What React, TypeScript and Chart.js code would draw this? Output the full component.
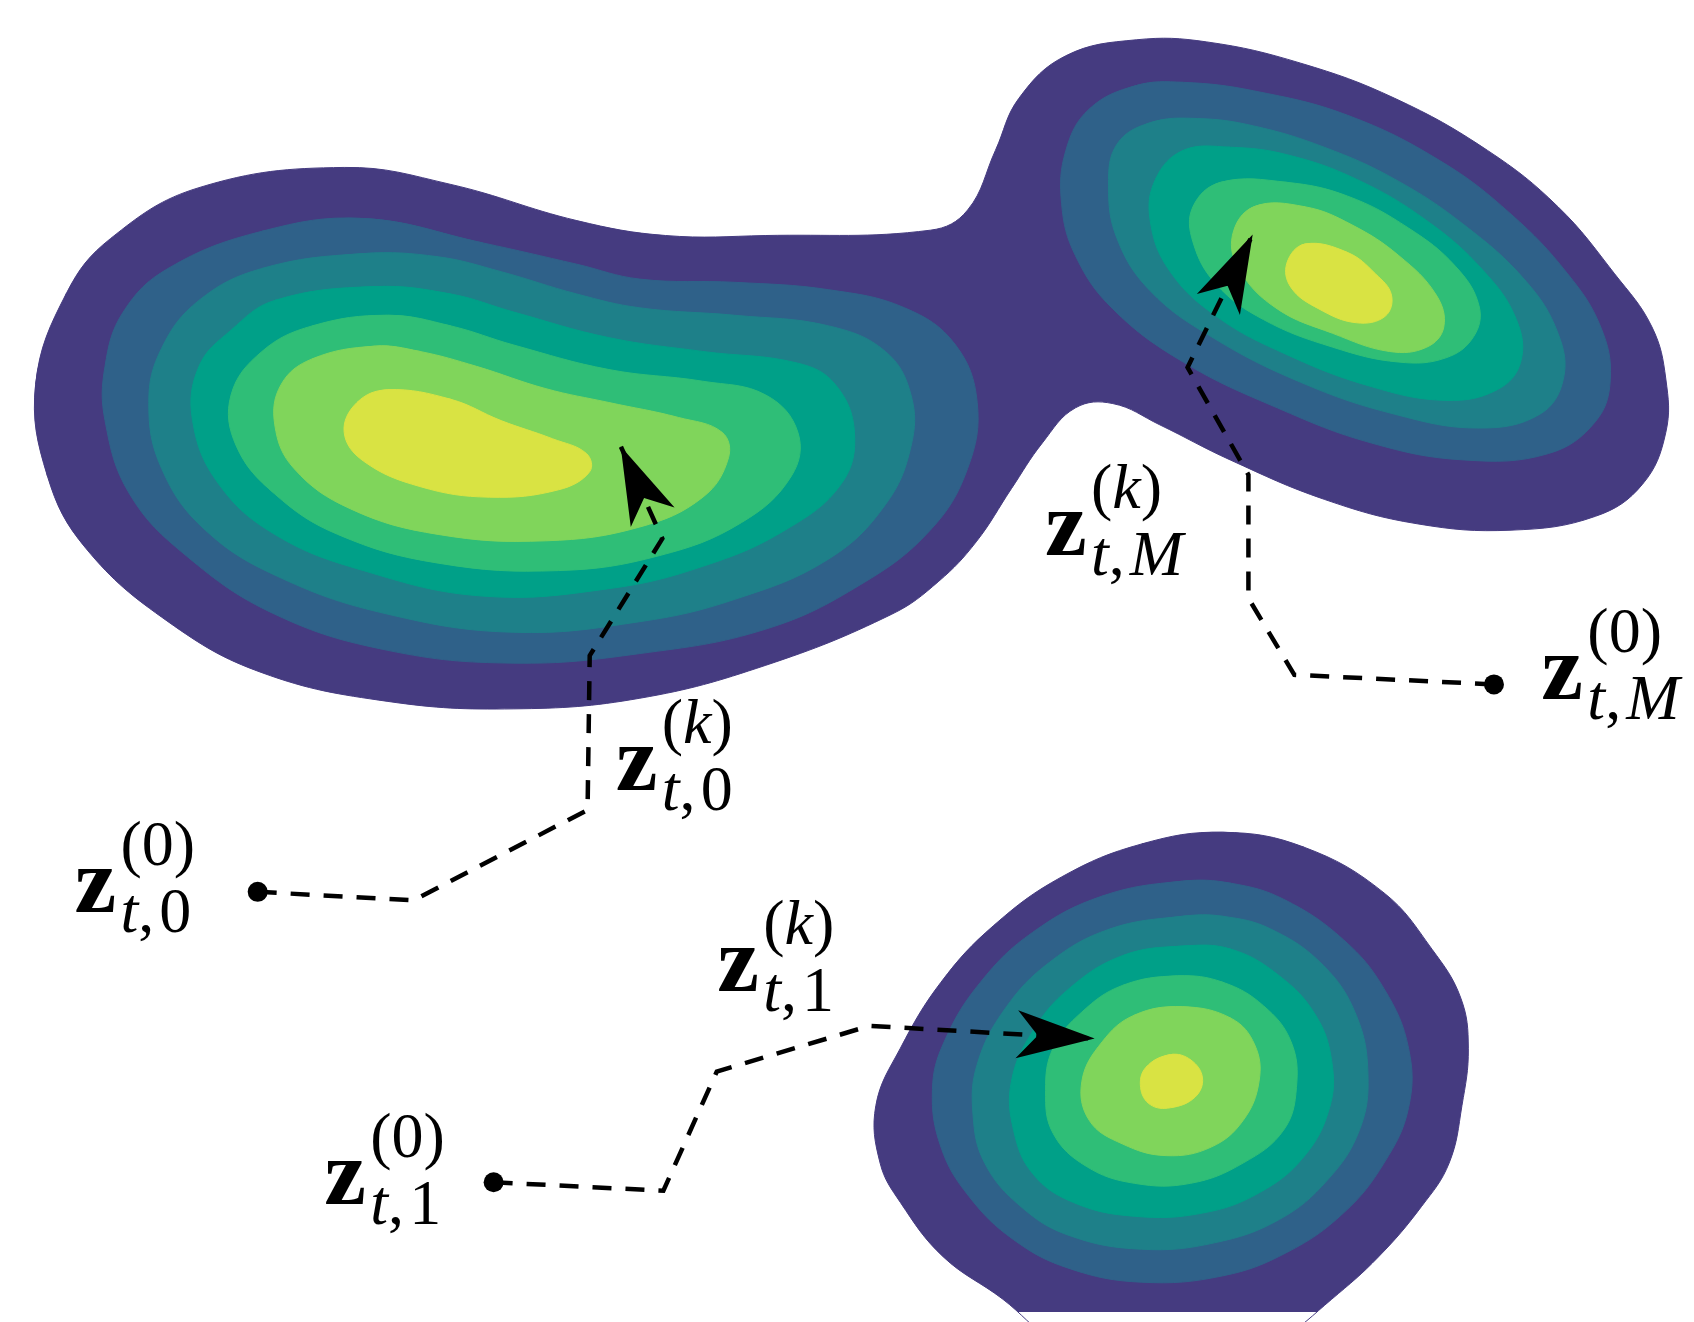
import React, { useEffect, useRef } from "react";
import { Chart, registerables } from "chart.js";

Chart.register(...registerables);

const W = 1694;
const H = 1322;
// data space = the reference picture's own coordinate frame
const X_MAX = 1568;
const Y_MAX = 1224;

const LEVEL_COLORS = ["#453b80", "#2f6189", "#1e8089", "#00a088", "#2fbe77", "#80d55b", "#d9e343"];

// ---- contour lines (closed), level 0 = outermost ----
const topOuter = [[24,352],[53,266],[94,215],[177,167],[313,148],[413,164],[531,198],[614,212],[708,212],[862,207],[897,188],[923,132],[945,83],[989,43],[1055,28],[1121,30],[1209,50],[1297,83],[1384,132],[1450,185],[1503,248],[1538,298],[1551,347],[1551,397],[1529,446],[1485,476],[1406,489],[1318,483],[1231,460],[1143,423],[1077,390],[1033,370],[998,374],[967,407],[938,450],[905,500],[870,537],[826,568],[708,616],[590,647],[472,657],[354,650],[236,623],[148,575],[71,506],[35,438]];

const leftL1 = [[331,196],[443,219],[531,239],[590,253],[679,256],[767,263],[838,280],[885,314],[906,369],[897,431],[862,489],[797,540],[708,582],[590,605],[472,614],[354,602],[248,568],[165,513],[112,455],[89,386],[89,335],[106,284],[148,243],[236,208]];
const leftL2 = [[331,229],[401,232],[460,246],[531,267],[590,280],[679,287],[767,297],[820,321],[844,362],[844,410],[820,465],[767,516],[679,554],[590,575],[472,585],[354,568],[254,534],[183,489],[142,431],[130,369],[142,318],[177,273],[236,243]];
const leftL3 = [[342,260],[413,267],[472,284],[561,308],[649,321],[738,332],[773,352],[791,397],[779,445],[726,489],[649,523],[561,544],[443,551],[331,527],[248,493],[195,445],[171,386],[177,335],[207,301],[248,273]];
const leftL4 = [[354,287],[413,297],[472,315],[561,338],[649,349],[708,362],[738,397],[732,438],[685,482],[608,513],[514,527],[401,520],[307,493],[248,455],[212,410],[207,362],[236,321],[283,297]];
const leftL5 = [[342,316],[384,321],[437,335],[502,356],[561,369],[626,383],[667,397],[673,421],[649,458],[590,486],[502,499],[401,493],[319,469],[266,431],[248,390],[254,352],[283,328]];
const leftL6 = [[354,357],[413,366],[460,386],[508,403],[540,417],[543,434],[514,451],[449,458],[384,448],[331,424],[313,397],[325,369]];

const rightL1 = [[1055,71],[1099,68],[1165,76],[1253,99],[1340,142],[1406,192],[1459,248],[1490,298],[1499,347],[1485,387],[1441,417],[1362,423],[1275,407],[1187,374],[1099,331],[1033,281],[998,231],[985,182],[989,132],[1011,93]];
const rightL2 = [[1068,106],[1112,102],[1165,109],[1231,129],[1297,159],[1362,202],[1420,255],[1450,304],[1455,347],[1433,380],[1376,393],[1297,380],[1209,350],[1125,307],[1068,264],[1037,215],[1029,165],[1037,126]];
const rightL3 = [[1099,132],[1143,129],[1196,136],[1261,159],[1327,198],[1380,245],[1411,291],[1415,331],[1393,357],[1345,367],[1275,354],[1196,324],[1130,288],[1086,245],[1068,198],[1073,159]];
const rightL4 = [[1134,162],[1196,162],[1253,175],[1310,205],[1354,241],[1376,278],[1371,307],[1345,327],[1301,331],[1239,317],[1174,291],[1130,258],[1108,218],[1108,185]];
const rightL5 = [[1165,185],[1213,185],[1257,202],[1301,231],[1336,268],[1343,298],[1327,317],[1292,321],[1239,304],[1187,281],[1152,245],[1145,212]];
const rightL6 = [[1213,220],[1253,228],[1279,248],[1294,268],[1288,288],[1261,294],[1226,281],[1200,261],[1196,238]];

const botL0 = [[1136,773],[1212,787],[1287,830],[1332,883],[1359,929],[1366,976],[1360,1030],[1348,1084],[1322,1125],[1282,1172],[1238,1212],[1190,1250],[1120,1285],[1040,1285],[975,1250],[930,1212],[874,1172],[834,1121],[815,1084],[811,1030],[834,976],[872,914],[921,861],[985,815],[1060,784]];
const botL1 = [[1098,819],[1144,821],[1193,836],[1249,874],[1287,920],[1310,976],[1310,1032],[1287,1084],[1249,1131],[1196,1168],[1136,1190],[1060,1196],[992,1183],[940,1156],[898,1115],[872,1069],[864,1015],[875,970],[909,914],[958,867],[1023,833]];
const botL2 = [[1098,852],[1136,852],[1181,864],[1230,898],[1261,945],[1272,1001],[1264,1053],[1234,1100],[1189,1137],[1128,1159],[1060,1165],[992,1152],[947,1125],[913,1084],[902,1038],[906,991],[932,939],[974,895],[1030,864]];
const botL3 = [[1098,880],[1144,883],[1189,908],[1223,945],[1238,988],[1236,1032],[1212,1078],[1170,1112],[1117,1131],[1053,1134],[996,1121],[958,1094],[940,1053],[938,1007],[958,960],[992,920],[1042,889]];
const botL4 = [[1094,908],[1136,914],[1174,936],[1200,970],[1205,1013],[1193,1053],[1155,1084],[1106,1103],[1053,1103],[1008,1087],[977,1056],[970,1016],[977,976],[1004,942],[1042,917]];
const botL5 = [[1098,937],[1144,948],[1166,973],[1170,1007],[1155,1044],[1125,1069],[1083,1077],[1042,1066],[1011,1044],[1004,1007],[1023,970],[1053,945]];
const botL6 = [[1087,982],[1106,987],[1117,1004],[1110,1022],[1087,1032],[1068,1029],[1059,1013],[1064,994]];

const contours: { level: number; pts: number[][] }[] = [
  { level: 0, pts: topOuter }, { level: 0, pts: botL0 },
  { level: 1, pts: leftL1 }, { level: 1, pts: rightL1 }, { level: 1, pts: botL1 },
  { level: 2, pts: leftL2 }, { level: 2, pts: rightL2 }, { level: 2, pts: botL2 },
  { level: 3, pts: leftL3 }, { level: 3, pts: rightL3 }, { level: 3, pts: botL3 },
  { level: 4, pts: leftL4 }, { level: 4, pts: rightL4 }, { level: 4, pts: botL4 },
  { level: 5, pts: leftL5 }, { level: 5, pts: rightL5 }, { level: 5, pts: botL5 },
  { level: 6, pts: leftL6 }, { level: 6, pts: rightL6 }, { level: 6, pts: botL6 },
];

// ---- trajectories: start point (dot) ... end point (arrow tip) ----
const path0 = [[232,829],[378,837],[541,752],[543,607],[611,497],[572,410]];
const pathM = [[1390,634],[1203,625],[1160,553],[1160,437],[1103,336],[1164,211]];
const path1 = [[453,1102],[612,1110],[662,998],[805,955],[1016,967]];
const paths = [path0, pathM, path1];

// ---- labels: position of the bold z (left, baseline) ----
const labelPos = [[66,848],[573,733],[975,512],[1440,648],[668,922],[300,1122]];
const labelSup = ["(0)", "(k)", "(k)", "(0)", "(k)", "(0)"];
const labelSub = ["t,0", "t,0", "t,M", "t,M", "t,1", "t,1"];

const toXY = (p: number[]) => ({ x: p[0], y: p[1] });

const FONT = '"Liberation Serif", "DejaVu Serif", serif';

const arrowPlugin = {
  id: "arrows",
  afterDatasetsDraw(chart: any) {
    const { ctx, scales } = chart;
    const xs = scales.x, ys = scales.y;
    ctx.save();
    ctx.fillStyle = "#000";
    for (const p of paths) {
      const a = p[p.length - 2], b = p[p.length - 1];
      const ax = xs.getPixelForValue(a[0]), ay = ys.getPixelForValue(a[1]);
      const bx = xs.getPixelForValue(b[0]), by = ys.getPixelForValue(b[1]);
      const ang = Math.atan2(by - ay, bx - ax);
      const L = 78, Wd = 24, inset = 21;
      ctx.save();
      ctx.translate(bx, by);
      ctx.rotate(ang);
      ctx.beginPath();
      ctx.moveTo(0, 0);
      ctx.lineTo(-L, -Wd);
      ctx.lineTo(-L + inset, 0);
      ctx.lineTo(-L, Wd);
      ctx.closePath();
      ctx.fill();
      ctx.restore();
    }
    ctx.restore();
  },
};

function drawScript(ctx: CanvasRenderingContext2D, s: string, x: number, y: number, size: number) {
  let cx = x;
  for (const ch of s) {
    const italic = /[A-Za-z]/.test(ch);
    ctx.font = `${italic ? "italic " : ""}${size}px ${FONT}`;
    ctx.fillText(ch, cx, y);
    cx += ctx.measureText(ch).width + (ch === "," ? size * 0.08 : 0);
  }
}

const labelPlugin = {
  id: "labels",
  afterDatasetsDraw(chart: any) {
    const { ctx, scales } = chart;
    ctx.save();
    ctx.fillStyle = "#000";
    ctx.textBaseline = "alphabetic";
    ctx.textAlign = "left";
    labelPos.forEach((p, i) => {
      const x = scales.x.getPixelForValue(p[0]);
      const y = scales.y.getPixelForValue(p[1]);
      ctx.font = `bold 94px ${FONT}`;
      ctx.fillText("z", x - 6, y);
      drawScript(ctx, labelSup[i], x + 40, y - 47, 64);
      drawScript(ctx, labelSub[i], x + 40, y + 20, 64);
    });
    ctx.restore();
  },
};

export default function App() {
  const ref = useRef<HTMLCanvasElement | null>(null);
  useEffect(() => {
    document.body.style.margin = "0";
    const datasets: any[] = [];
    contours.forEach((c) => {
      const col = LEVEL_COLORS[c.level];
      const n = c.pts.length;
      // wrap around by one point on each side so the closed curve has no kink
      const ring = [c.pts[n - 1], ...c.pts, c.pts[0], c.pts[1]];
      datasets.push({
        data: ring.map(toXY),
        showLine: true,
        fill: "shape",
        backgroundColor: col,
        borderColor: col,
        borderWidth: 1,
        pointRadius: 0,
        tension: 0.4,
        clip: false,
        order: 100 - c.level,
      });
    });
    paths.forEach((p) => {
      datasets.push({
        data: p.map(toXY),
        showLine: true,
        fill: false,
        borderColor: "#000",
        borderWidth: 4.5,
        borderDash: [19, 14],
        tension: 0,
        pointRadius: (ctx: any) => (ctx.dataIndex === 0 ? 10 : 0),
        pointBackgroundColor: "#000",
        pointBorderWidth: 0,
        order: 1,
      });
    });
    const chart = new Chart(ref.current as HTMLCanvasElement, {
      type: "scatter",
      data: { datasets },
      options: {
        animation: false,
        responsive: false,
        devicePixelRatio: 1,
        events: [],
        layout: { padding: 0 },
        elements: { line: { capBezierPoints: false } },
        plugins: { legend: { display: false }, tooltip: { enabled: false } },
        scales: {
          x: { type: "linear", min: 0, max: X_MAX, display: false },
          y: { type: "linear", min: 0, max: Y_MAX, reverse: true, display: false },
        },
      },
      plugins: [arrowPlugin, labelPlugin],
    } as any);
    return () => chart.destroy();
  }, []);
  return (
    <div style={{ position: "absolute", left: 0, top: 0, width: W, height: H, background: "#fff" }}>
      <canvas ref={ref} width={W} height={H} style={{ display: "block", width: W, height: H }} />
    </div>
  );
}
